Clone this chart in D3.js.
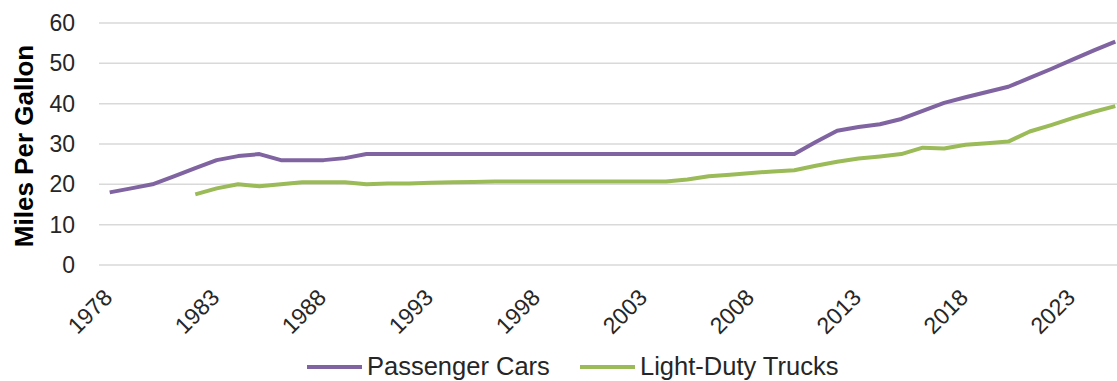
<!DOCTYPE html>
<html>
<head>
<meta charset="utf-8">
<script src="https://cdn.jsdelivr.net/npm/d3@7"></script>
<style>
  html, body { margin: 0; padding: 0; background: #fff; }
  svg { display: block; font-family: "Liberation Sans", Arial, sans-serif; }
</style>
</head>
<body>
<svg id="chart" width="1117" height="381"></svg>
<script>
// Model years shown on the category axis
const years = d3.range(1978, 2026);

// Fuel economy standard, passenger cars (mpg)
const passengerCars = [
  18.0, 19.0, 20.0, 22.0, 24.0, 26.0, 27.0, 27.5, 26.0, 26.0, 26.0, 26.5,
  27.5, 27.5, 27.5, 27.5, 27.5, 27.5, 27.5, 27.5, 27.5, 27.5, 27.5,
  27.5, 27.5, 27.5, 27.5, 27.5, 27.5, 27.5, 27.5, 27.5, 27.5,
  30.5, 33.3, 34.2, 34.9, 36.2, 38.2, 40.2, 41.6, 42.9, 44.2, 46.4, 48.6, 50.9, 53.2, 55.4
];

// Fuel economy standard, light-duty trucks (mpg); no standard before 1982
const lightTrucks = [
  null, null, null, null,
  17.5, 19.0, 20.0, 19.5, 20.0, 20.5, 20.5, 20.5,
  20.0, 20.2, 20.2, 20.4, 20.5, 20.6, 20.7, 20.7, 20.7, 20.7, 20.7,
  20.7, 20.7, 20.7, 20.7, 21.2, 22.0, 22.4, 22.8, 23.2, 23.5,
  24.6, 25.6, 26.4, 26.9, 27.5, 29.1, 28.9, 29.8, 30.2, 30.6, 33.1, 34.7, 36.4, 38.0, 39.4
];

const yTicks = [0, 10, 20, 30, 40, 50, 60];
const xTickYears = d3.range(1978, 2026, 5);

const seriesNames = ["Passenger Cars", "Light-Duty Trucks"];
const seriesColors = ["#8064A2", "#9BBB59"];

const svg = d3.select("#chart");
const textColor = "#262626";

// Scales
const x = d3.scaleBand().domain(years).range([99, 1126]).padding(0);
const xc = yr => x(yr) + x.bandwidth() / 2;
const y = d3.scaleLinear().domain([0, 60]).range([265, 23]);

// Horizontal gridlines
svg.append("g")
  .selectAll("line")
  .data(yTicks)
  .join("line")
  .attr("x1", 99).attr("x2", 1117)
  .attr("y1", d => y(d)).attr("y2", d => y(d))
  .attr("stroke", "#d9d9d9")
  .attr("stroke-width", 1.5);

// Y tick labels
svg.append("g")
  .selectAll("text")
  .data(yTicks)
  .join("text")
  .attr("x", 75)
  .attr("y", d => y(d))
  .attr("dy", "0.35em")
  .attr("text-anchor", "end")
  .attr("font-size", 23)
  .attr("fill", textColor)
  .text(d => d);

// Y axis title
svg.append("text")
  .attr("transform", "translate(33,146) rotate(-90)")
  .attr("text-anchor", "middle")
  .attr("font-size", 26)
  .attr("font-weight", "bold")
  .attr("fill", "#000")
  .text("Miles Per Gallon");

// X tick labels, rotated
svg.append("g")
  .selectAll("text")
  .data(xTickYears)
  .join("text")
  .attr("transform", d => `translate(${xc(d) + 4},299) rotate(-45)`)
  .attr("text-anchor", "end")
  .attr("font-size", 23)
  .attr("fill", textColor)
  .text(d => d);

// Series lines
const series = [passengerCars, lightTrucks];
const line = d3.line()
  .defined(d => d.v != null)
  .x(d => xc(d.year))
  .y(d => y(d.v));

svg.append("g")
  .selectAll("path")
  .data(series)
  .join("path")
  .attr("d", vals => line(years.map((yr, i) => ({ year: yr, v: vals[i] }))))
  .attr("fill", "none")
  .attr("stroke", (d, i) => seriesColors[i])
  .attr("stroke-width", 4)
  .attr("stroke-linejoin", "round")
  .attr("stroke-linecap", "butt");

// Legend
const legendItems = [
  { name: seriesNames[0], color: seriesColors[0], x: 307 },
  { name: seriesNames[1], color: seriesColors[1], x: 580 }
];
const lg = svg.append("g").selectAll("g").data(legendItems).join("g")
  .attr("transform", d => `translate(${d.x},367)`);
lg.append("line")
  .attr("x1", 0).attr("x2", 55).attr("y1", 0).attr("y2", 0)
  .attr("stroke", d => d.color)
  .attr("stroke-width", 4);
lg.append("text")
  .attr("x", 60)
  .attr("y", 8)
  .attr("font-size", 25.5)
  .attr("fill", textColor)
  .text(d => d.name);
</script>
</body>
</html>
